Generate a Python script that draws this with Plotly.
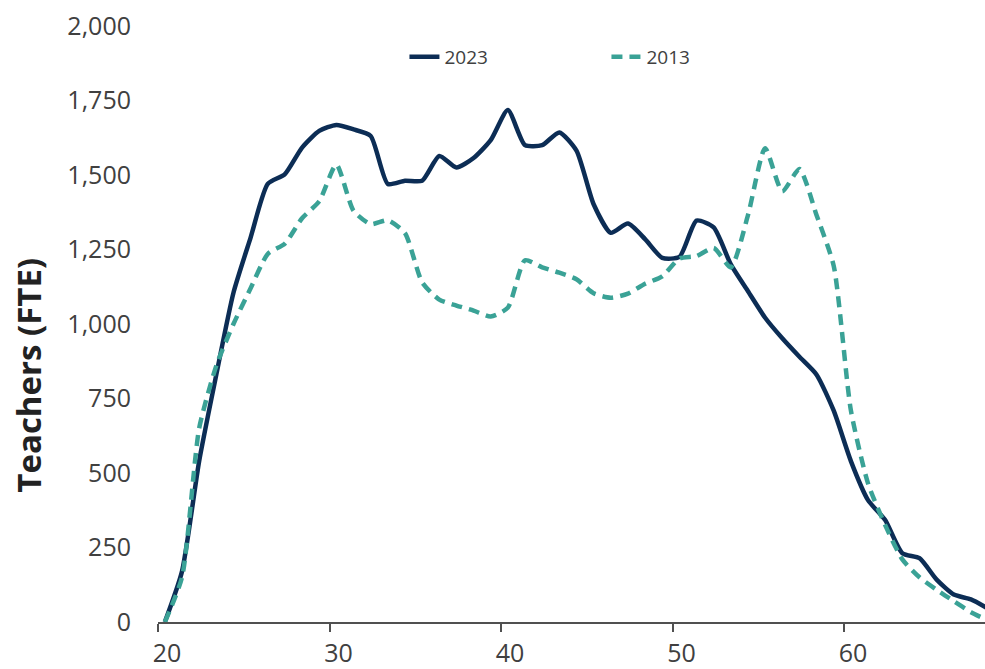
import plotly.graph_objects as go

ages = list(range(20, 69))
teachers_2023 = [0, 170, 540, 830, 1105, 1290, 1470, 1503, 1592, 1648,
                 1668, 1653, 1631, 1470, 1481, 1481, 1564, 1525, 1557, 1617,
                 1718, 1600, 1600, 1643, 1582, 1402, 1306, 1337, 1285, 1222,
                 1225, 1347, 1324, 1200, 1110, 1021, 952, 890, 830, 709,
                 540, 409, 342, 231, 214, 142, 92, 76, 45]
teachers_2013 = [0, 150, 650, 860, 1000, 1120, 1235, 1270, 1355, 1412,
                 1535, 1380, 1335, 1348, 1305, 1140, 1082, 1062, 1045, 1025,
                 1055, 1214, 1190, 1172, 1150, 1103, 1088, 1102, 1135, 1160,
                 1220, 1228, 1255, 1190, 1365, 1590, 1445, 1520, 1365, 1195,
                 710, 465, 325, 210, 150, 108, 70, 33, 5]
x_ticks = [20, 30, 40, 50, 60]
y_ticks = [0, 250, 500, 750, 1000, 1250, 1500, 1750, 2000]

# ages plotted at the middle of each year of age
x_pos = [a + 0.4 for a in ages]

NAVY = "#0c2d55"
TEAL = "#3aa296"
FONT = "Open Sans"

fig = go.Figure()
fig.add_trace(go.Scatter(x=x_pos, y=teachers_2023, name="2023", mode="lines",
                         line=dict(color=NAVY, width=4.5, shape="spline", smoothing=0.6)))
fig.add_trace(go.Scatter(x=x_pos, y=teachers_2013, name="2013", mode="lines",
                         line=dict(color=TEAL, width=4.5, dash="11px,7px",
                                   shape="spline", smoothing=0.6)))

fig.update_layout(
    width=985, height=669,
    margin=dict(l=158, r=0, t=26, b=43),
    paper_bgcolor="white", plot_bgcolor="white",
    font=dict(family=FONT, color="#404040"),
    showlegend=True,
    legend=dict(orientation="h", x=0.298, y=0.948, xanchor="left", yanchor="middle",
                font=dict(size=19, color="#404040", family=FONT),
                entrywidth=157, bgcolor="rgba(0,0,0,0)"),
    xaxis=dict(range=[20, 68.22], tickvals=x_ticks, ticktext=[str(v) for v in x_ticks],
               showgrid=False, zeroline=False, showline=True, linecolor="#505050",
               linewidth=2, ticks="outside", ticklen=8, tickwidth=2, tickcolor="#505050",
               ticklabelshift=9, ticklabeloverflow="allow",
               tickfont=dict(size=25, color="#404040", family=FONT)),
    yaxis=dict(range=[0, 2000], tickvals=y_ticks,
               ticktext=[f"{v:,}" for v in y_ticks],
               showgrid=False, zeroline=False, showline=False, ticks="",
               ticklabelstandoff=26, ticklabeloverflow="allow",
               tickfont=dict(size=25, color="#404040", family=FONT)),
    annotations=[dict(text="<b>Teachers (FTE)</b>", xref="paper", yref="paper",
                      x=-0.156, y=0.415, xanchor="center", yanchor="middle",
                      textangle=-90, showarrow=False,
                      font=dict(size=33, color="#222222", family=FONT))],
)

fig.write_html("out.html",
               config={"displayModeBar": False},
               post_script="document.body.style.margin='0';document.body.style.overflow='hidden';")
